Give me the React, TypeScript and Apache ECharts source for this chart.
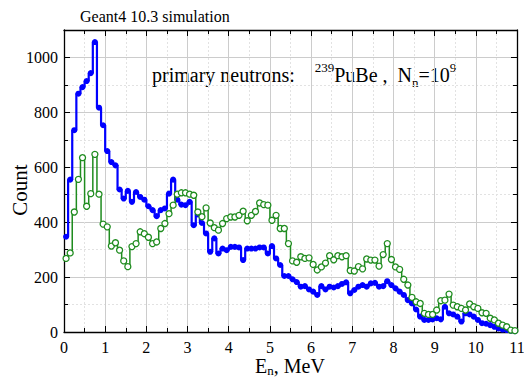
import React, { useEffect, useRef } from "react";
import * as echarts from "echarts";

const BIN_WIDTH = 0.1;

// 239PuBe neutron spectrum, counts per 0.1 MeV bin (blue: filled circles)
const blueCounts = [
  347, 555, 735, 868, 892, 914, 943, 1056, 817, 753,
  659, 619, 607, 519, 486, 514, 474, 510, 492, 482,
  458, 444, 422, 444, 450, 504, 555, 482, 464, 462,
  474, 389, 428, 397, 359, 292, 341, 286, 304, 298,
  310, 310, 308, 262, 304, 304, 304, 308, 308, 286,
  313, 268, 244, 204, 204, 192, 182, 165, 167, 155,
  147, 135, 167, 155, 165, 162, 167, 175, 181, 141,
  153, 165, 171, 165, 177, 179, 165, 167, 185, 171,
  159, 147, 135, 116, 104, 82, 56, 44, 44, 46,
  50, 46, 92, 68, 64, 56, 38, 68, 64, 56,
  44, 32, 30, 25, 19, 13, 9, 7, 5, 3,
];

// green: open circles
const greenCounts = [
  268, 288, 437, 556, 635, 458, 504, 647, 502, 393,
  383, 313, 325, 298, 259, 238, 311, 322, 365, 358,
  345, 322, 328, 377, 395, 431, 462, 502, 507, 507,
  502, 498, 437, 420, 452, 397, 380, 371, 395, 413,
  419, 419, 425, 440, 405, 425, 439, 470, 464, 462,
  407, 425, 377, 377, 322, 259, 254, 274, 268, 270,
  246, 226, 237, 251, 278, 263, 278, 274, 278, 224,
  222, 238, 230, 266, 262, 262, 240, 282, 322, 264,
  237, 228, 192, 171, 126, 110, 104, 68, 64, 64,
  80, 114, 116, 138, 98, 92, 86, 80, 102, 92,
  86, 70, 68, 50, 44, 32, 25, 19, 7, 5,
];

// bin centres (MeV)
const energies = blueCounts.map((_, i) => Number(((i + 0.5) * BIN_WIDTH).toFixed(2)));

const xMin = 0;
const xMax = 11;
const xInterval = 1;
const yMin = 0;
const yMax = 1100;
const yInterval = 200;

const titleText = "Geant4 10.3 simulation";
const yName = "Count";
const FONT = "Liberation Serif";
const BLUE = "#0000ff";
const GREEN = "#1f8c1f";

export default function App() {
  const ref = useRef<HTMLDivElement>(null);

  useEffect(() => {
    if (!ref.current) return;
    const chart = echarts.init(ref.current, undefined, { renderer: "svg" });

    const axisLine = { show: true, onZero: false, lineStyle: { color: "#000", width: 1.3 } };
    const tick = { show: true, inside: true, length: 6, lineStyle: { color: "#000", width: 1 } };
    const minorTick = { show: true, splitNumber: 2, length: 4, lineStyle: { color: "#000", width: 1 } };
    const split = { show: true, lineStyle: { color: "#cccccc", width: 1 } };
    const minorSplit = { show: true, lineStyle: { color: "#e2e2e2", width: 1, type: [2, 2] } };

    const blueData = energies.map((e, i) => [e, blueCounts[i]]);
    const greenData = energies.map((e, i) => [e, greenCounts[i]]);

    chart.setOption({
      animation: false,
      backgroundColor: "#fff",
      textStyle: { fontFamily: FONT },
      grid: { left: 64, right: 7, top: 30, bottom: 46, containLabel: false, outerBoundsMode: "none" },
      graphic: [
        {
          type: "text",
          left: 80,
          top: 8,
          style: { text: titleText, fontSize: 16, fontFamily: FONT, fill: "#000" },
        },
        {
          type: "text",
          left: 152,
          top: 61,
          style: {
            text: "{m|primary neutrons:    }{s|239}{m|PuBe ,  N}{b|n}{m|=10}{s|9}",
            fill: "#000",
            rich: {
              m: { fontSize: 20, fontFamily: FONT, lineHeight: 28, fill: "#000" },
              s: { fontSize: 13, fontFamily: FONT, lineHeight: 13, verticalAlign: "top", fill: "#000" },
              b: { fontSize: 13, fontFamily: FONT, lineHeight: 13, verticalAlign: "bottom", fill: "#000" },
            },
          },
        },
        {
          type: "text",
          x: 20,
          y: 190,
          rotation: Math.PI / 2,
          style: {
            text: yName,
            fontSize: 21,
            fontFamily: FONT,
            fill: "#000",
            align: "center",
            verticalAlign: "middle",
          },
        },
        {
          type: "text",
          x: 290,
          y: 366,
          style: {
            text: "{a|E}{b|n}{a|, MeV}",
            align: "center",
            verticalAlign: "middle",
            fill: "#000",
            rich: {
              a: { fontSize: 20, fontFamily: FONT, fill: "#000", lineHeight: 22 },
              b: { fontSize: 13, fontFamily: FONT, fill: "#000", lineHeight: 7, verticalAlign: "bottom" },
            },
          },
        },
      ],
      xAxis: [
        {
          type: "value",
          min: xMin,
          max: xMax,
          interval: xInterval,
          position: "bottom",
          axisLine,
          axisTick: tick,
          minorTick,
          splitLine: split,
          minorSplitLine: minorSplit,
          axisLabel: { fontFamily: FONT, fontSize: 16, color: "#000", margin: 7 },
        },
        {
          type: "value",
          min: xMin,
          max: xMax,
          interval: xInterval,
          position: "top",
          axisLine,
          axisTick: tick,
          minorTick,
          splitLine: { show: false },
          axisLabel: { show: false },
        },
      ],
      yAxis: [
        {
          type: "value",
          min: yMin,
          max: yMax,
          interval: yInterval,
          position: "left",
          axisLine,
          axisTick: tick,
          minorTick,
          splitLine: split,
          minorSplitLine: minorSplit,
          axisLabel: {
            fontFamily: FONT,
            fontSize: 16,
            color: "#000",
            margin: 6,
            showMaxLabel: false,
            formatter: (v: number) => (v % 200 === 0 ? String(v) : ""),
          },
        },
        {
          type: "value",
          min: yMin,
          max: yMax,
          interval: yInterval,
          position: "right",
          axisLine,
          axisTick: tick,
          minorTick,
          splitLine: { show: false },
          axisLabel: { show: false },
        },
      ],
      series: [
        {
          type: "line",
          name: "blue",
          data: blueData,
          step: "middle",
          symbol: "circle",
          symbolSize: 6,
          showSymbol: true,
          lineStyle: { color: BLUE, width: 2.2 },
          itemStyle: { color: BLUE },
          z: 3,
        },
        {
          type: "line",
          name: "green",
          data: greenData,
          step: "middle",
          symbol: "circle",
          symbolSize: 6,
          showSymbol: true,
          lineStyle: { color: GREEN, width: 1.5 },
          itemStyle: { color: "#fff", borderColor: GREEN, borderWidth: 1.3 },
          z: 4,
        },
      ],
    });

    return () => chart.dispose();
  }, []);

  return (
    <div
      ref={ref}
      style={{ position: "fixed", left: 0, top: 0, width: 524, height: 378, background: "#fff" }}
    />
  );
}
